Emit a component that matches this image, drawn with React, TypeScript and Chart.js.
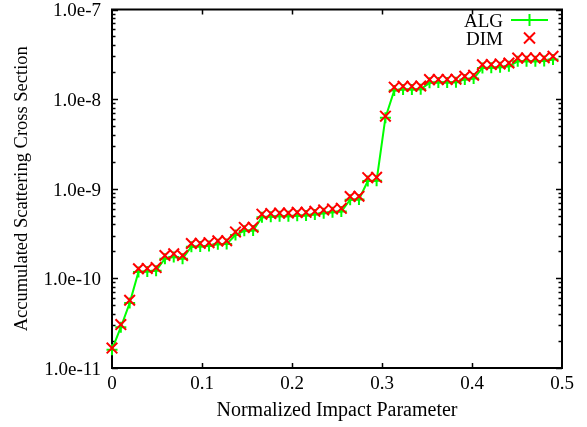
import React, { useEffect, useRef } from 'react';
import { Chart, registerables } from 'chart.js';

Chart.register(...registerables);

const xValues = [
  0, 0.0098, 0.0196, 0.0294, 0.0392, 0.049, 0.0588, 0.0686, 0.0784, 0.0882,
  0.098, 0.1078, 0.1176, 0.1274, 0.1372, 0.147, 0.1568, 0.1666, 0.1764, 0.1862,
  0.196, 0.2058, 0.2156, 0.2254, 0.2352, 0.245, 0.2548, 0.2646, 0.2744, 0.2842,
  0.294, 0.3038, 0.3136, 0.3234, 0.3332, 0.343, 0.3528, 0.3626, 0.3724, 0.3822,
  0.392, 0.4018, 0.4116, 0.4214, 0.4312, 0.441, 0.4508, 0.4606, 0.4704, 0.4802,
  0.49,
];

const dimValues = [
  1.67e-11, 3.05e-11, 5.7e-11, 1.28e-10, 1.29e-10, 1.32e-10, 1.8e-10, 1.88e-10, 1.8e-10, 2.45e-10,
  2.46e-10, 2.5e-10, 2.62e-10, 2.63e-10, 3.3e-10, 3.7e-10, 3.72e-10, 5.2e-10, 5.28e-10, 5.35e-10,
  5.36e-10, 5.45e-10, 5.46e-10, 5.6e-10, 5.8e-10, 5.95e-10, 6.05e-10, 8.2e-10, 8.25e-10, 1.33e-9,
  1.34e-9, 6.45e-9, 1.36e-8, 1.39e-8, 1.39e-8, 1.4e-8, 1.65e-8, 1.66e-8, 1.66e-8, 1.67e-8,
  1.8e-8, 1.85e-8, 2.42e-8, 2.43e-8, 2.47e-8, 2.53e-8, 2.87e-8, 2.88e-8, 2.88e-8, 2.89e-8,
  3.0e-8,
];

const algValues = [
  1.6e-11, 2.85e-11, 5.3e-11, 1.18e-10, 1.19e-10, 1.22e-10, 1.66e-10, 1.73e-10, 1.66e-10, 2.26e-10,
  2.27e-10, 2.3e-10, 2.41e-10, 2.42e-10, 3.05e-10, 3.4e-10, 3.42e-10, 4.8e-10, 4.86e-10, 4.92e-10,
  4.93e-10, 5.0e-10, 5.02e-10, 5.15e-10, 5.34e-10, 5.47e-10, 5.57e-10, 7.55e-10, 7.6e-10, 1.22e-9,
  1.23e-9, 6.2e-9, 1.25e-8, 1.28e-8, 1.28e-8, 1.29e-8, 1.52e-8, 1.53e-8, 1.53e-8, 1.54e-8,
  1.66e-8, 1.7e-8, 2.23e-8, 2.24e-8, 2.27e-8, 2.33e-8, 2.64e-8, 2.65e-8, 2.65e-8, 2.66e-8,
  2.76e-8,
];

const xTicks = [0, 0.1, 0.2, 0.3, 0.4, 0.5];
const yDecades = [1e-11, 1e-10, 1e-9, 1e-8, 1e-7];
const seriesNames = ['ALG', 'DIM'];
const xTitle = 'Normalized Impact Parameter';
const yTitle = 'Accumulated Scattering Cross Section';

const FAMILY = "'Liberation Serif', 'Times New Roman', serif";
const GREEN = '#00ff00';
const RED = '#ff0000';

export default function App() {
  const ref = useRef<HTMLCanvasElement>(null);

  useEffect(() => {
    if (!ref.current) return;

    const framePlugin = {
      id: 'frame',
      beforeDatasetsDraw(chart: any) {
        const { ctx, chartArea: a, scales } = chart;
        ctx.save();
        ctx.strokeStyle = '#000';
        ctx.lineWidth = 2;
        ctx.strokeRect(a.left, a.top, a.right - a.left, a.bottom - a.top);
        ctx.lineWidth = 1.5;
        ctx.beginPath();
        for (const t of xTicks) {
          if (t === xTicks[0] || t === xTicks[xTicks.length - 1]) continue;
          const px = Math.round(scales.x.getPixelForValue(t)) + 0.5;
          ctx.moveTo(px, a.bottom);
          ctx.lineTo(px, a.bottom - 5);
          ctx.moveTo(px, a.top);
          ctx.lineTo(px, a.top + 5);
        }
        for (let d = 0; d < yDecades.length; d++) {
          const base = yDecades[d];
          for (let m = 1; m <= 9; m++) {
            if (d === yDecades.length - 1 && m > 1) break;
            const py = Math.round(scales.y.getPixelForValue(base * m)) + 0.5;
            const len = m === 1 ? 6 : 3.5;
            ctx.moveTo(a.left, py);
            ctx.lineTo(a.left + len, py);
            ctx.moveTo(a.right, py);
            ctx.lineTo(a.right - len, py);
          }
        }
        ctx.stroke();
        ctx.restore();
      },
      afterDatasetsDraw(chart: any) {
        const { ctx } = chart;
        ctx.save();
        ctx.font = `19px ${FAMILY}`;
        ctx.fillStyle = '#000';
        ctx.textAlign = 'right';
        ctx.textBaseline = 'middle';
        const textX = 503;
        const rows = [20, 38];
        const mx = 529.5;
        ctx.fillText(seriesNames[0], textX, rows[0] + 2);
        ctx.strokeStyle = GREEN;
        ctx.lineWidth = 2;
        ctx.beginPath();
        ctx.moveTo(511, rows[0]);
        ctx.lineTo(548, rows[0]);
        ctx.moveTo(mx, rows[0] - 6);
        ctx.lineTo(mx, rows[0] + 6);
        ctx.stroke();
        ctx.fillStyle = '#000';
        ctx.fillText(seriesNames[1], textX, rows[1] + 2);
        ctx.strokeStyle = RED;
        ctx.beginPath();
        ctx.moveTo(mx - 5.5, rows[1] - 5.5);
        ctx.lineTo(mx + 5.5, rows[1] + 5.5);
        ctx.moveTo(mx + 5.5, rows[1] - 5.5);
        ctx.lineTo(mx - 5.5, rows[1] + 5.5);
        ctx.stroke();
        ctx.restore();
      },
    };

    const tickFont = { family: FAMILY, size: 19 };

    const chart = new Chart(ref.current, {
      type: 'scatter',
      data: {
        datasets: [
          {
            label: seriesNames[0],
            data: xValues.map((x, i) => ({ x, y: algValues[i] })),
            borderColor: GREEN,
            backgroundColor: GREEN,
            borderWidth: 2,
            showLine: true,
            pointStyle: 'cross',
            pointRadius: 5.5,
            pointBorderWidth: 2,
            clip: false,
            order: 1,
          },
          {
            label: seriesNames[1],
            data: xValues.map((x, i) => ({ x, y: dimValues[i] })),
            borderColor: RED,
            backgroundColor: RED,
            borderWidth: 2,
            showLine: false,
            pointStyle: 'crossRot',
            pointRadius: 7.5,
            pointBorderWidth: 2,
            clip: false,
            order: 0,
          },
        ],
      } as any,
      options: {
        responsive: false,
        animation: false,
        events: [],
        layout: { padding: { top: 7, right: 25, left: 0, bottom: 0 } },
        plugins: { legend: { display: false }, tooltip: { enabled: false } },
        scales: {
          x: {
            type: 'linear',
            min: 0,
            max: 0.5,
            afterBuildTicks: (s: any) => {
              s.ticks = xTicks.map((v) => ({ value: v }));
            },
            ticks: {
              callback: (v: any) => String(Number(Number(v).toFixed(1))),
              font: tickFont,
              color: '#000',
              padding: 5,
              maxRotation: 0,
              autoSkip: false,
            },
            grid: { display: false, drawTicks: false },
            border: { display: false },
            title: {
              display: true,
              text: xTitle,
              font: { family: FAMILY, size: 20 },
              color: '#000',
              padding: { top: 0, bottom: 4 },
            },
            afterFit: (s: any) => {
              s.height = 59;
              s.paddingLeft = 0;
              s.paddingRight = 0;
            },
          },
          y: {
            type: 'logarithmic',
            min: 1e-11,
            max: 1e-7,
            afterBuildTicks: (s: any) => {
              s.ticks = yDecades.map((v) => ({ value: v }));
            },
            ticks: {
              callback: (v: any) => '1.0e' + Math.round(Math.log10(Number(v))),
              font: tickFont,
              color: '#000',
              padding: 11,
              labelOffset: 2,
              autoSkip: false,
            },
            grid: { display: false, drawTicks: false },
            border: { display: false },
            title: {
              display: true,
              text: yTitle,
              font: { family: FAMILY, size: 18.5 },
              color: '#000',
              padding: { top: 11, bottom: 0 },
            },
            afterFit: (s: any) => {
              s.width = 112;
              s.paddingTop = 0;
              s.paddingBottom = 0;
            },
          },
        },
      } as any,
      plugins: [framePlugin],
    });

    return () => chart.destroy();
  }, []);

  return (
    <div style={{ position: 'absolute', left: 0, top: 0, width: 587, height: 427, background: '#fff' }}>
      <canvas ref={ref} width={587} height={427} style={{ display: 'block', width: 587, height: 427 }} />
    </div>
  );
}
